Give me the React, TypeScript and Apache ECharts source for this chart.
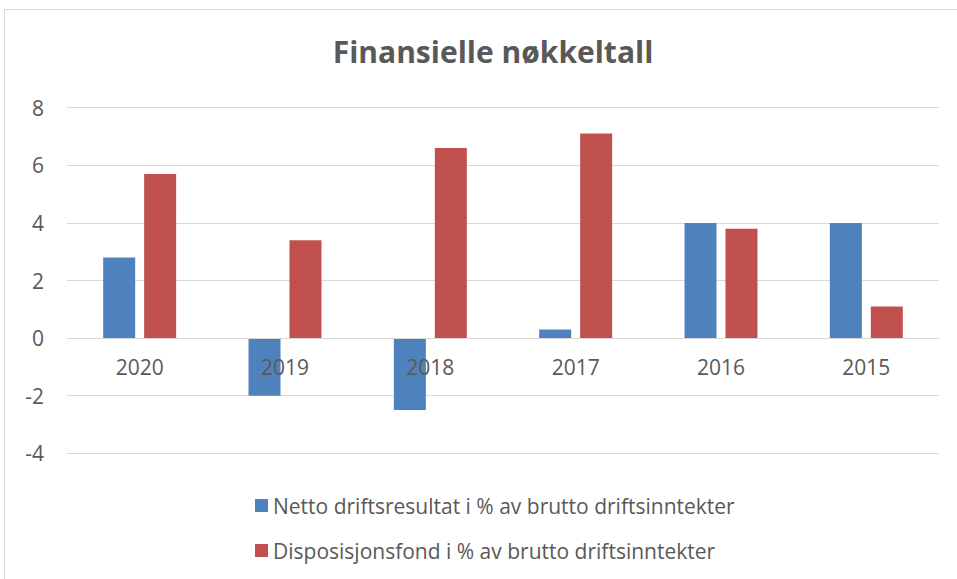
import React, { useEffect, useRef } from "react";
import * as echarts from "echarts";

const categories = ["2020", "2019", "2018", "2017", "2016", "2015"];
const nettoDriftsresultat = [2.8, -2.0, -2.5, 0.3, 4.0, 4.0];
const disposisjonsfond = [5.7, 3.4, 6.6, 7.1, 3.8, 1.1];
const seriesNames = [
  "Netto driftsresultat i % av brutto driftsinntekter",
  "Disposisjonsfond i % av brutto driftsinntekter",
];

const FONT = "Open Sans";
const TEXT = "#595959";

export default function App() {
  const ref = useRef<HTMLDivElement>(null);
  useEffect(() => {
    if (!ref.current) return;
    const chart = echarts.init(ref.current, undefined, { renderer: "svg" });
    chart.setOption({
      animation: false,
      backgroundColor: "#ffffff",
      title: {
        text: "Finansielle nøkkeltall",
        left: 488,
        textAlign: "center",
        top: 31,
        textStyle: { fontFamily: FONT, fontWeight: "bold", fontSize: 30, color: TEXT },
      },
      graphic: [
        {
          type: "rect",
          shape: { x: 4.5, y: 9.5, width: 980, height: 600 },
          style: { fill: "none", stroke: "#d9d9d9", lineWidth: 1 },
          silent: true,
        },
      ],
      legend: {
        orient: "vertical",
        left: 250,
        top: 490,
        itemWidth: 13,
        itemHeight: 13,
        itemGap: 24,
        icon: "rect",
        textStyle: { fontFamily: FONT, fontSize: 21, color: TEXT },
        data: seriesNames,
      },
      grid: { left: 67, right: 18, top: 107.7, bottom: 125.7, containLabel: false },
      xAxis: {
        type: "category",
        data: categories,
        offset: -115,
        z: 10,
        axisLine: { onZero: false, lineStyle: { color: "#d9d9d9", width: 1 } },
        axisTick: { show: false },
        axisLabel: { fontFamily: FONT, fontSize: 21, color: TEXT, margin: 18 },
      },
      yAxis: {
        type: "value",
        min: -4,
        max: 8,
        interval: 2,
        axisLine: { show: false },
        axisTick: { show: false },
        splitLine: { lineStyle: { color: "#d9d9d9", width: 1 } },
        axisLabel: { fontFamily: FONT, fontSize: 21, color: TEXT, margin: 23 },
      },
      series: [
        {
          name: seriesNames[0],
          type: "bar",
          data: nettoDriftsresultat,
          barWidth: 32,
          barGap: "28%",
          itemStyle: { color: "#4f81bd" },
        },
        {
          name: seriesNames[1],
          type: "bar",
          data: disposisjonsfond,
          barWidth: 32,
          barGap: "28%",
          itemStyle: { color: "#c0504d" },
        },
      ],
    });
    return () => chart.dispose();
  }, []);
  return (
    <div
      ref={ref}
      style={{ position: "fixed", left: 0, top: 0, width: 957, height: 579 }}
    />
  );
}
